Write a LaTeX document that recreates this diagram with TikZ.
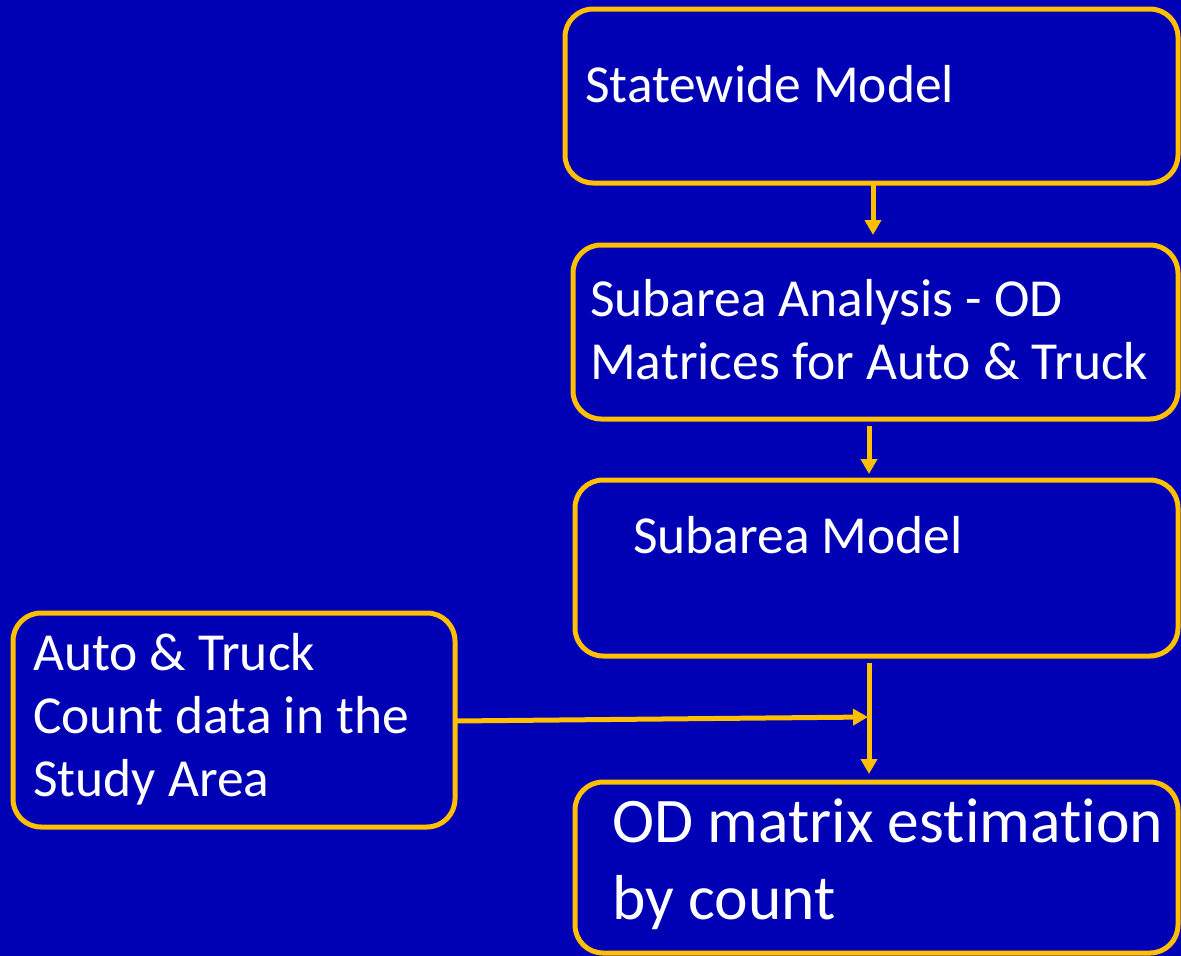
\documentclass[tikz,border=0pt]{standalone}
\usepackage{fontspec}
\setmainfont{Carlito}[Ligatures={NoCommon}]
\usetikzlibrary{arrows.meta}
\definecolor{bg}{RGB}{0,0,180}
\definecolor{gold}{RGB}{255,192,0}
\tikzset{
  box/.style={draw=gold, line width=5pt, rounded corners=28pt, inner sep=0pt},
  txt/.style={text=white, inner sep=0pt, anchor=base west, align=left,
    font=\fontsize{53.5}{63}\selectfont},
  bigtxt/.style={txt, font=\fontsize{63.5}{77}\selectfont},
  conn/.style={gold, line width=5pt, -{Triangle[width=16pt,length=15pt]}},
}
\begin{document}
\begin{tikzpicture}[x=1pt,y=-1pt]
\fill[bg] (0,0) rectangle (1181,956);
\useasboundingbox (0,0) rectangle (1181,956);
% boxes
\node[box, minimum width=613pt, minimum height=174pt] (b1) at (871.5,96) {};
\node[box, minimum width=605pt, minimum height=174pt] (b2) at (875.5,332) {};
\node[box, minimum width=603pt, minimum height=176pt] (b3) at (876.5,568) {};
\node[box, minimum width=603pt, minimum height=171pt] (b4) at (876.5,867.5) {};
\node[box, minimum width=442pt, minimum height=214pt] (bl) at (234,720) {};
% texts (anchor = baseline of last line)
\node[txt] (t1) at (585,102) {Statewide Model};
\node[txt] (t2) at (590,379) {Subarea Analysis - OD\\Matrices for Auto \& Truck};
\node[txt] (t3) at (633,553) {Subarea Model};
\node[bigtxt] (t4) at (612,919) {OD matrix estimation\\by count};
\node[txt] (tl) at (33,796) {Auto \& Truck\\Count data in the\\Study Area};
% connectors
\coordinate (a1s) at (873,183);
\coordinate (a1e) at (873,235);
\coordinate (a2s) at (869,426);
\coordinate (a2e) at (869,474);
\coordinate (a3s) at (869,663);
\coordinate (a3e) at (869,774);
\coordinate (hs) at (455,721);
\coordinate (he) at (868,717);
\draw[conn] (a1s) -- (a1e);
\draw[conn] (a2s) -- (a2e);
\draw[conn] (a3s) -- (a3e);
\draw[conn] (hs) -- (he);
\end{tikzpicture}
\end{document}
